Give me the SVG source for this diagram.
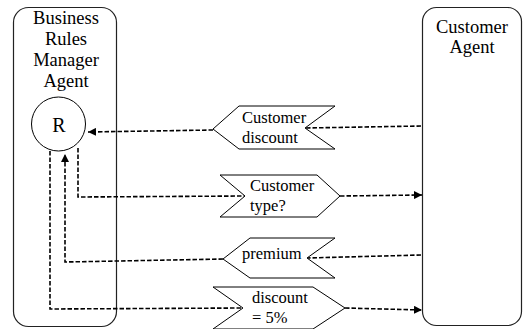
<svg xmlns="http://www.w3.org/2000/svg" width="523" height="329" viewBox="0 0 523 329">
<defs>
<marker id="ah" viewBox="0 0 10 10" refX="10" refY="5" markerWidth="8" markerHeight="8" markerUnits="userSpaceOnUse" orient="auto">
<path d="M0,0 L10,5 L0,10 z" fill="#000"/>
</marker>
</defs>
<style>
text{font-family:"Liberation Serif","Times New Roman",serif;font-size:16.5px;fill:#000}
.lbl{font-size:18.5px;text-anchor:middle}
.agent{fill:#fff;stroke:#222;stroke-width:1.2}
.msg{fill:#fff;stroke:#000;stroke-width:1}
.c{fill:none;stroke:#000;stroke-width:1.6;stroke-dasharray:4.5 2}
</style>
<g id="brm-agent">
<rect class="agent" x="13.5" y="7.5" width="103" height="319" rx="15" ry="15"/>
<text class="lbl" x="66" y="24">Business</text>
<text class="lbl" x="66" y="45">Rules</text>
<text class="lbl" x="66" y="66">Manager</text>
<text class="lbl" x="66" y="87">Agent</text>
</g>
<g id="customer-agent">
<rect class="agent" x="422.5" y="7.5" width="99" height="318" rx="14" ry="14"/>
<text class="lbl" x="472" y="33">Customer</text>
<text class="lbl" x="472" y="53">Agent</text>
</g>
<g id="rule-R">
<circle cx="58.5" cy="124" r="27" fill="#fff" stroke="#000" stroke-width="1"/>
<text class="lbl" x="59" y="132" style="font-size:20px">R</text>
</g>
<g id="connectors">
<polyline class="c" points="421,126 306,128"/>
<polyline class="c" points="213,130 88,132" marker-end="url(#ah)"/>
<polyline class="c" points="78,148 78,197 245,196"/>
<polyline class="c" points="340,196 422,195" marker-end="url(#ah)"/>
<polyline class="c" points="421,255 307,258"/>
<polyline class="c" points="223,259 65,262 65,154" marker-end="url(#ah)"/>
<polyline class="c" points="50,151 50,309 243,308"/>
<polyline class="c" points="345,308 422,310" marker-end="url(#ah)"/>
</g>
<g id="msg-customer-discount">
<polygon class="msg" points="213,129 239,106 335,106 305,128 335,149 239,149"/>
<text x="242" y="123">Customer</text>
<text x="242" y="143">discount</text>
</g>
<g id="msg-customer-type">
<polygon class="msg" points="220,175 317,175 340,196 317,217 220,217 245,196"/>
<text x="250" y="191">Customer</text>
<text x="250" y="211">type?</text>
</g>
<g id="msg-premium">
<polygon class="msg" points="223,259 250,238 335,238 307,258 335,278 250,278"/>
<text x="242" y="259">premium</text>
</g>
<g id="msg-discount">
<polygon class="msg" points="213,287 313,287 345,308 313,329 213,329 243,308"/>
<text x="252" y="303">discount</text>
<text x="252" y="323">= 5%</text>
</g>
</svg>
